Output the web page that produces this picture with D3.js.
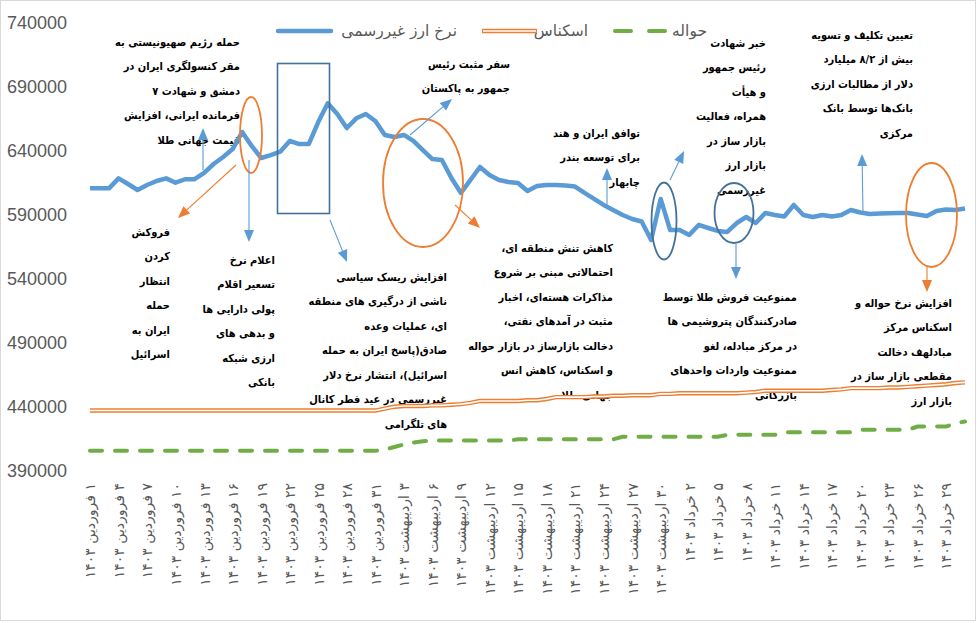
<!DOCTYPE html>
<html><head><meta charset="utf-8">
<script src="https://cdn.jsdelivr.net/npm/d3@7"></script>
<style>body{margin:0;background:#fff}svg{display:block}</style>
</head><body>
<svg id="c" width="977" height="623"></svg>
<script>
const categories = [
"۱ فروردین ۱۴۰۳","۲ فروردین ۱۴۰۳","۳ فروردین ۱۴۰۳","۴ فروردین ۱۴۰۳","۵ فروردین ۱۴۰۳","۶ فروردین ۱۴۰۳","۷ فروردین ۱۴۰۳","۸ فروردین ۱۴۰۳","۹ فروردین ۱۴۰۳","۱۰ فروردین ۱۴۰۳",
"۱۱ فروردین ۱۴۰۳","۱۲ فروردین ۱۴۰۳","۱۳ فروردین ۱۴۰۳","۱۴ فروردین ۱۴۰۳","۱۵ فروردین ۱۴۰۳","۱۶ فروردین ۱۴۰۳","۱۷ فروردین ۱۴۰۳","۱۸ فروردین ۱۴۰۳","۱۹ فروردین ۱۴۰۳","۲۰ فروردین ۱۴۰۳",
"۲۱ فروردین ۱۴۰۳","۲۲ فروردین ۱۴۰۳","۲۳ فروردین ۱۴۰۳","۲۴ فروردین ۱۴۰۳","۲۵ فروردین ۱۴۰۳","۲۶ فروردین ۱۴۰۳","۲۷ فروردین ۱۴۰۳","۲۸ فروردین ۱۴۰۳","۲۹ فروردین ۱۴۰۳","۳۰ فروردین ۱۴۰۳","۳۱ فروردین ۱۴۰۳",
"۱ اردیبهشت ۱۴۰۳","۲ اردیبهشت ۱۴۰۳","۳ اردیبهشت ۱۴۰۳","۴ اردیبهشت ۱۴۰۳","۵ اردیبهشت ۱۴۰۳","۶ اردیبهشت ۱۴۰۳","۷ اردیبهشت ۱۴۰۳","۸ اردیبهشت ۱۴۰۳","۹ اردیبهشت ۱۴۰۳","۱۰ اردیبهشت ۱۴۰۳",
"۱۱ اردیبهشت ۱۴۰۳","۱۲ اردیبهشت ۱۴۰۳","۱۳ اردیبهشت ۱۴۰۳","۱۴ اردیبهشت ۱۴۰۳","۱۵ اردیبهشت ۱۴۰۳","۱۶ اردیبهشت ۱۴۰۳","۱۷ اردیبهشت ۱۴۰۳","۱۸ اردیبهشت ۱۴۰۳","۱۹ اردیبهشت ۱۴۰۳","۲۰ اردیبهشت ۱۴۰۳",
"۲۱ اردیبهشت ۱۴۰۳","۲۲ اردیبهشت ۱۴۰۳","۲۳ اردیبهشت ۱۴۰۳","۲۴ اردیبهشت ۱۴۰۳","۲۵ اردیبهشت ۱۴۰۳","۲۶ اردیبهشت ۱۴۰۳","۲۷ اردیبهشت ۱۴۰۳","۲۸ اردیبهشت ۱۴۰۳","۲۹ اردیبهشت ۱۴۰۳","۳۰ اردیبهشت ۱۴۰۳","۳۱ اردیبهشت ۱۴۰۳",
"۱ خرداد ۱۴۰۳","۲ خرداد ۱۴۰۳","۳ خرداد ۱۴۰۳","۴ خرداد ۱۴۰۳","۵ خرداد ۱۴۰۳","۶ خرداد ۱۴۰۳","۷ خرداد ۱۴۰۳","۸ خرداد ۱۴۰۳","۹ خرداد ۱۴۰۳","۱۰ خرداد ۱۴۰۳",
"۱۱ خرداد ۱۴۰۳","۱۲ خرداد ۱۴۰۳","۱۳ خرداد ۱۴۰۳","۱۴ خرداد ۱۴۰۳","۱۵ خرداد ۱۴۰۳","۱۶ خرداد ۱۴۰۳","۱۷ خرداد ۱۴۰۳","۱۸ خرداد ۱۴۰۳","۱۹ خرداد ۱۴۰۳","۲۰ خرداد ۱۴۰۳",
"۲۱ خرداد ۱۴۰۳","۲۲ خرداد ۱۴۰۳","۲۳ خرداد ۱۴۰۳","۲۴ خرداد ۱۴۰۳","۲۵ خرداد ۱۴۰۳","۲۶ خرداد ۱۴۰۳","۲۷ خرداد ۱۴۰۳","۲۸ خرداد ۱۴۰۳","۲۹ خرداد ۱۴۰۳","۳۰ خرداد ۱۴۰۳","۳۱ خرداد ۱۴۰۳"
];

const seriesNames = ["نرخ ارز غیررسمی", "اسکناس", "حواله"];

const rate = [
610600,610600,610600,618400,614000,609300,613200,616300,618400,615000,
617700,617700,622600,629600,635100,641300,654600,643700,634300,636600,
639200,647600,645200,645200,662400,677000,668700,657700,665300,668700,
663200,652300,650700,652300,647600,640500,633500,632700,618700,607000,
617100,627300,621000,617100,615500,614800,608500,612400,613200,613200,
612800,612000,607000,602300,597600,593700,589800,586600,584700,570200,
602300,578000,578000,574100,582000,579600,577300,576500,583500,588200,
583500,591300,589800,588600,597600,589800,588200,589800,588600,589800,
593700,591700,590500,590900,591100,591300,591300,590200,589000,592900,
594100,593700,594800
];

const eskenas = [
437000,437000,437000,437000,437000,437000,437000,437000,437000,437000,
437000,437000,437000,437000,437000,437000,437000,437000,437000,437000,
437000,437000,437000,437000,437000,437000,437000,437000,437000,437000,
437000,438500,440000,440500,440500,440500,441000,441000,441500,442000,
443000,444500,444500,444500,444500,444500,445000,445000,446000,447500,
447500,447500,447500,448000,448000,448500,448500,449000,449000,449000,
450000,450000,450500,450500,450500,450500,450500,450500,450500,451000,
451500,452500,452500,452500,452500,452500,452500,452500,453000,453500,
454500,454500,454500,454500,455000,455000,455500,456000,456500,457000,
457500,458500,459000
];

const havaleh = [
405500,405500,405500,405500,405500,405500,405500,405500,405500,405500,
405500,405500,405500,405500,405500,405500,405500,405500,405500,405500,
405500,405500,405500,405500,405500,405500,405500,405500,405500,405500,
405500,406500,408500,410500,412000,413000,413500,413500,413500,413500,
413500,413500,413500,413500,413500,414500,414500,414500,414500,414500,
414500,414500,414500,414500,414500,414500,416500,416500,416500,416500,
416500,416500,416500,416500,416500,416500,416500,418000,418000,418000,
418000,418000,418000,420000,420000,420000,420000,420000,420000,420000,
420000,422000,422000,422000,422000,422000,422000,424500,424500,424500,
424500,427000,428500
];

const yTicks = [390000,440000,490000,540000,590000,640000,690000,740000];
const tickLabels = categories.filter((d, i) => i % 3 === 0);

const annotations = [
  {x: 240, y: 42, lines: ["حمله رژیم صهیونیستی به","مقر کنسولگری ایران در","دمشق و شهادت ۷","فرمانده ایرانی، افزایش","قیمت جهانی طلا"]},
  {x: 510, y: 64, lines: ["سفر مثبت رئیس","جمهور به پاکستان"]},
  {x: 640, y: 133, lines: ["توافق ایران و هند","برای توسعه بندر","چابهار"]},
  {x: 766, y: 43, lines: ["خبر شهادت","رئیس جمهور","و هیأت","همراه، فعالیت","بازار ساز در","بازار ارز","غیررسمی"]},
  {x: 913, y: 35, lines: ["تعیین تکلیف و تسویه","بیش از ۸/۲ میلیارد","دلار از مطالبات ارزی","بانک‌ها توسط بانک","مرکزی"]},
  {x: 170, y: 232, lines: ["فروکش","کردن","انتظار","حمله","ایران به","اسرائیل"]},
  {x: 275, y: 260, lines: ["اعلام نرخ","تسعیر اقلام","پولی دارایی ها","و بدهی های","ارزی شبکه","بانکی"]},
  {x: 447, y: 277, lines: ["افزایش ریسک سیاسی","ناشی از درگیری های منطقه","ای، عملیات وعده","صادق(پاسخ ایران به حمله","اسرائیل)، انتشار نرخ دلار","غیررسمی در عید فطر کانال","های تلگرامی"]},
  {x: 613, y: 248, lines: ["کاهش تنش منطقه ای،","احتمالاتی مبنی بر شروع","مذاکرات هسته‌ای، اخبار","مثبت در آمدهای نفتی،","دخالت بازارساز در بازار حواله","و اسکناس، کاهش انس","جهانی طلا"]},
  {x: 797, y: 297, lines: ["ممنوعیت فروش طلا توسط","صادرکنندگان پتروشیمی ها","در مرکز مبادله، لغو","ممنوعیت واردات واحدهای","بازرگانی"]},
  {x: 952, y: 303, lines: ["افزایش نرخ حواله و","اسکناس مرکز","مبادلهف دخالت","مقطعی بازار ساز در","بازار ارز"]}
];

const svg = d3.select("#c");

svg.append("rect").attr("x",0.5).attr("y",0.5).attr("width",975).attr("height",620)
  .attr("fill","#fff").attr("stroke","#D9D9D9").attr("stroke-width",1);

const x = d3.scalePoint().domain(categories).range([90, 965]);
const y = d3.scaleLinear().domain([390000, 740000]).range([470.7, 22.7]);

// y axis
const yAxis = svg.append("g").attr("transform","translate(70,0)")
  .call(d3.axisLeft(y).tickValues(yTicks).tickSize(0).tickPadding(3).tickFormat(d => String(d)));
yAxis.select(".domain").remove();
yAxis.selectAll("text").attr("fill","#595959").attr("font-size",18)
  .attr("font-family","Liberation Sans, Arial, sans-serif");

// x axis
const xAxis = svg.append("g").attr("transform","translate(0,480)")
  .call(d3.axisBottom(x).tickValues(tickLabels).tickSize(0));
xAxis.select(".domain").remove();
xAxis.selectAll("text")
  .attr("transform","rotate(-90)")
  .attr("x",-3).attr("y",0).attr("dy","0.35em")
  .attr("direction","rtl")
  .attr("text-anchor","start")
  .attr("fill","#595959").attr("font-size",14)
  .attr("font-family","DejaVu Sans, sans-serif");

// annotation texts
const ann = svg.append("g").attr("font-family","DejaVu Sans Condensed, DejaVu Sans, sans-serif")
  .attr("font-stretch","condensed")
  .attr("font-weight","bold").attr("font-size",11).attr("fill","#000");
annotations.forEach(a => {
  a.lines.forEach((t, k) => {
    ann.append("text").attr("x", a.x).attr("y", a.y + k * 24.5)
      .attr("dy","0.35em").attr("direction","rtl").attr("text-anchor","start").text(t);
  });
});

// series
const line = d3.line().x((d, i) => x(categories[i])).y(d => y(d));
svg.append("path").datum(havaleh).attr("d", line).attr("fill","none")
  .attr("stroke","#70AD47").attr("stroke-width",4).attr("stroke-dasharray","12 13")
  .attr("stroke-linecap","round");
svg.append("path").datum(eskenas).attr("d", line).attr("fill","none")
  .attr("stroke","#ED7D31").attr("stroke-width",4.4).attr("stroke-linejoin","round");
svg.append("path").datum(eskenas).attr("d", line).attr("fill","none")
  .attr("stroke","#fff").attr("stroke-width",1.6).attr("stroke-linejoin","round");
svg.append("path").datum(rate).attr("d", line).attr("fill","none")
  .attr("stroke","#5B9BD5").attr("stroke-width",4.5).attr("stroke-linejoin","round");

// legend
const lg = svg.append("g");
lg.append("line").attr("x1",278).attr("x2",331).attr("y1",31).attr("y2",31)
  .attr("stroke","#5B9BD5").attr("stroke-width",4.5).attr("stroke-linecap","round");
lg.append("line").attr("x1",482).attr("x2",537).attr("y1",31).attr("y2",31)
  .attr("stroke","#ED7D31").attr("stroke-width",4.4);
lg.append("line").attr("x1",483).attr("x2",536).attr("y1",31).attr("y2",31)
  .attr("stroke","#fff").attr("stroke-width",1.6);
lg.append("line").attr("x1",615).attr("x2",666).attr("y1",31).attr("y2",31)
  .attr("stroke","#70AD47").attr("stroke-width",4).attr("stroke-dasharray","16 18")
  .attr("stroke-linecap","round");
[[seriesNames[0],457],[seriesNames[1],588],[seriesNames[2],707]].forEach(([t,xr]) => {
  lg.append("text").attr("x",xr).attr("y",31).attr("dy","0.35em").attr("direction","rtl")
    .attr("text-anchor","start").attr("fill","#595959").attr("font-size",15.5)
    .attr("font-family","DejaVu Sans, sans-serif").text(t);
});

// shapes
const sh = svg.append("g").attr("fill","none");
sh.append("rect").attr("x",277.5).attr("y",63.5).attr("width",52).attr("height",150)
  .attr("stroke","#41719C").attr("stroke-width",1.6);
[
  [251,135,11,38,"#ED7D31"],
  [423,183,40,64,"#ED7D31"],
  [664,221,12.5,38.5,"#41719C"],
  [734,213,19.5,30,"#41719C"],
  [931.5,215,25.5,52,"#ED7D31"]
].forEach(([cx,cy,rx,ry,c]) => {
  sh.append("ellipse").attr("cx",cx).attr("cy",cy).attr("rx",rx).attr("ry",ry)
    .attr("stroke",c).attr("stroke-width",1.8);
});

function arrow(x1,y1,x2,y2,c){
  const L = 12, Wd = 5;
  const dx = x2-x1, dy = y2-y1, len = Math.hypot(dx,dy);
  const ux = dx/len, uy = dy/len;
  const bx = x2 - ux*L, by = y2 - uy*L;
  sh.append("line").attr("x1",x1).attr("y1",y1).attr("x2",bx).attr("y2",by)
    .attr("stroke",c).attr("stroke-width",1.1);
  sh.append("polygon").attr("points",
    [[x2,y2],[bx - uy*Wd, by + ux*Wd],[bx + uy*Wd, by - ux*Wd]].map(p=>p.join(",")).join(" "))
    .attr("fill",c).attr("stroke","none");
}
arrow(203,170,203,128,"#5B9BD5");
arrow(236,165,178,218,"#ED7D31");
arrow(249,160,249,242,"#5B9BD5");
arrow(330,220,347,262,"#5B9BD5");
arrow(410,135,452,99,"#5B9BD5");
arrow(455,205,480,228,"#ED7D31");
arrow(607,205,607,168,"#5B9BD5");
arrow(670,180,684,151,"#5B9BD5");
arrow(736,244,736,279,"#5B9BD5");
arrow(863,212,862,154,"#5B9BD5");
arrow(927,267,927,292,"#ED7D31");
</script>
</body></html>
